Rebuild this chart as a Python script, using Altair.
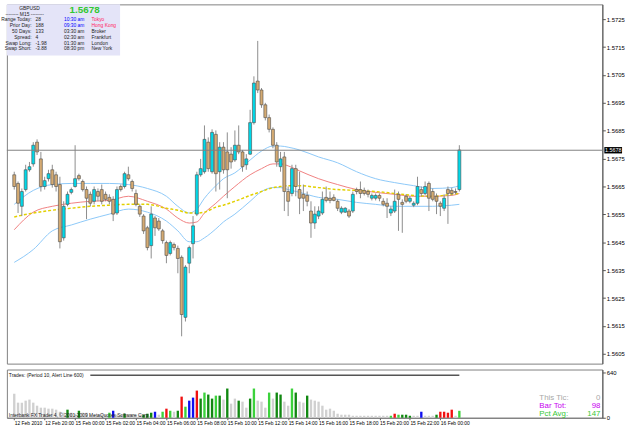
import json
import altair as alt
import pandas as pd

# ---------------- data ----------------
opens = [1.56692, 1.56661, 1.56579, 1.56639, 1.56710, 1.56731, 1.56809, 1.56749, 1.56650, 1.56678,
         1.56710, 1.56692, 1.56657, 1.56466, 1.56586, 1.56629, 1.56650, 1.56689, 1.56668, 1.56639,
         1.56622, 1.56597, 1.56632, 1.56639, 1.56622, 1.56611, 1.56604, 1.56555, 1.56650, 1.56650,
         1.56692, 1.56668, 1.56625, 1.56579, 1.56544, 1.56502, 1.56438, 1.56537, 1.56526, 1.56491,
         1.56449, 1.56410, 1.56442, 1.56428, 1.56396, 1.56181, 1.56375, 1.56445, 1.56551, 1.56692,
         1.56703, 1.56809, 1.56703, 1.56837, 1.56703, 1.56791, 1.56774, 1.56766, 1.56745, 1.56798,
         1.56774, 1.56728, 1.56766, 1.56879, 1.57028, 1.56996, 1.56943, 1.56897, 1.56855, 1.56798,
         1.56721, 1.56756, 1.56632, 1.56625, 1.56714, 1.56639, 1.56622, 1.56618, 1.56562, 1.56519,
         1.56544, 1.56555, 1.56611, 1.56608, 1.56611, 1.56597, 1.56558, 1.56558, 1.56562, 1.56562,
         1.56639, 1.56639, 1.56636, 1.56632, 1.56608, 1.56608, 1.56618, 1.56597, 1.56590, 1.56555,
         1.56562, 1.56622, 1.56593, 1.56615, 1.56597, 1.56583, 1.56590, 1.56639, 1.56625, 1.56661,
         1.56632, 1.56615, 1.56590, 1.56572, 1.56639, 1.56636, 1.56632, 1.56639]
highs = [1.56703, 1.56668, 1.56643, 1.56728, 1.56738, 1.56809, 1.56819, 1.56774, 1.56685, 1.56710,
         1.56728, 1.56703, 1.56685, 1.56597, 1.56632, 1.56646, 1.56798, 1.56696, 1.56675, 1.56650,
         1.56632, 1.56650, 1.56643, 1.56657, 1.56632, 1.56622, 1.56615, 1.56650, 1.56657, 1.56703,
         1.56721, 1.56675, 1.56639, 1.56586, 1.56551, 1.56509, 1.56579, 1.56544, 1.56537, 1.56498,
         1.56456, 1.56456, 1.56449, 1.56438, 1.56403, 1.56368, 1.56438, 1.56544, 1.56703, 1.56749,
         1.56869, 1.56826, 1.56855, 1.56851, 1.56809, 1.56809, 1.56844, 1.56791, 1.56851, 1.56869,
         1.56781, 1.56766, 1.56925, 1.57045, 1.57172, 1.57003, 1.56950, 1.56908, 1.56862, 1.56809,
         1.56774, 1.56774, 1.56650, 1.56728, 1.56728, 1.56703, 1.56657, 1.56632, 1.56597, 1.56579,
         1.56579, 1.56632, 1.56650, 1.56632, 1.56622, 1.56604, 1.56579, 1.56576, 1.56569, 1.56632,
         1.56646, 1.56668, 1.56646, 1.56639, 1.56625, 1.56625, 1.56625, 1.56608, 1.56608, 1.56579,
         1.56639, 1.56632, 1.56604, 1.56622, 1.56615, 1.56597, 1.56685, 1.56650, 1.56668, 1.56668,
         1.56643, 1.56625, 1.56597, 1.56622, 1.56650, 1.56646, 1.56643, 1.56798]
lows = [1.56639, 1.56555, 1.56544, 1.56632, 1.56703, 1.56721, 1.56763, 1.56632, 1.56639, 1.56668,
        1.56646, 1.56632, 1.56428, 1.56456, 1.56579, 1.56622, 1.56646, 1.56671, 1.56632, 1.56533,
        1.56579, 1.56586, 1.56597, 1.56586, 1.56597, 1.56586, 1.56526, 1.56548, 1.56632, 1.56643,
        1.56671, 1.56632, 1.56579, 1.56541, 1.56480, 1.56421, 1.56392, 1.56473, 1.56491, 1.56445,
        1.56375, 1.56403, 1.56421, 1.56339, 1.56113, 1.56166, 1.56339, 1.56392, 1.56544, 1.56685,
        1.56696, 1.56703, 1.56696, 1.56632, 1.56639, 1.56696, 1.56608, 1.56714, 1.56738, 1.56766,
        1.56703, 1.56710, 1.56763, 1.56872, 1.56985, 1.56932, 1.56887, 1.56844, 1.56787, 1.56721,
        1.56703, 1.56562, 1.56544, 1.56615, 1.56615, 1.56551, 1.56562, 1.56579, 1.56466, 1.56498,
        1.56533, 1.56548, 1.56593, 1.56590, 1.56597, 1.56562, 1.56551, 1.56555, 1.56537, 1.56555,
        1.56622, 1.56608, 1.56618, 1.56611, 1.56600, 1.56600, 1.56597, 1.56579, 1.56537, 1.56544,
        1.56555, 1.56491, 1.56484, 1.56590, 1.56590, 1.56576, 1.56583, 1.56615, 1.56618, 1.56562,
        1.56597, 1.56551, 1.56544, 1.56562, 1.56516, 1.56618, 1.56622, 1.56632]
closes = [1.56650, 1.56590, 1.56632, 1.56710, 1.56721, 1.56798, 1.56774, 1.56650, 1.56671, 1.56696,
          1.56657, 1.56650, 1.56452, 1.56579, 1.56622, 1.56639, 1.56678, 1.56678, 1.56639, 1.56608,
          1.56590, 1.56639, 1.56615, 1.56597, 1.56604, 1.56597, 1.56551, 1.56639, 1.56639, 1.56696,
          1.56678, 1.56643, 1.56586, 1.56551, 1.56491, 1.56431, 1.56551, 1.56502, 1.56498, 1.56456,
          1.56403, 1.56449, 1.56431, 1.56392, 1.56191, 1.56361, 1.56431, 1.56509, 1.56692, 1.56714,
          1.56819, 1.56714, 1.56844, 1.56696, 1.56791, 1.56710, 1.56710, 1.56738, 1.56798, 1.56774,
          1.56721, 1.56749, 1.56879, 1.57021, 1.56996, 1.56943, 1.56897, 1.56855, 1.56798, 1.56738,
          1.56749, 1.56632, 1.56597, 1.56714, 1.56650, 1.56608, 1.56608, 1.56597, 1.56519, 1.56551,
          1.56562, 1.56604, 1.56600, 1.56600, 1.56600, 1.56572, 1.56572, 1.56572, 1.56544, 1.56622,
          1.56632, 1.56625, 1.56625, 1.56622, 1.56618, 1.56618, 1.56608, 1.56586, 1.56579, 1.56569,
          1.56597, 1.56604, 1.56586, 1.56597, 1.56608, 1.56590, 1.56650, 1.56625, 1.56650, 1.56608,
          1.56604, 1.56597, 1.56579, 1.56608, 1.56625, 1.56625, 1.56629, 1.56781]

# indicator lines read at selected bars
ma_bars = [0, 5, 10, 15, 20, 25, 30, 35, 40, 43, 46, 48, 50, 53, 55, 58, 62, 65, 68, 70,
           72, 75, 80, 85, 90, 95, 100, 105, 110, 115, 117]
upper_band = [1.56586, 1.56636, 1.56657, 1.56661, 1.56661, 1.56661, 1.56657, 1.56643, 1.56615, 1.56579,
              1.56555, 1.56569, 1.56608, 1.56653, 1.56678, 1.56699, 1.56745, 1.56777, 1.56795, 1.56795,
              1.56791, 1.56781, 1.56756, 1.56735, 1.56703, 1.56678, 1.56664, 1.56653, 1.56643, 1.56646,
              1.56653]
lower_band = [1.56378, 1.56424, 1.56491, 1.56512, 1.56533, 1.56551, 1.56569, 1.56558, 1.56526, 1.56491,
              1.56452, 1.56452, 1.56466, 1.56498, 1.56523, 1.56551, 1.56597, 1.56632, 1.56646, 1.56646,
              1.56639, 1.56629, 1.56611, 1.56604, 1.56593, 1.56586, 1.56579, 1.56579, 1.56579, 1.56583,
              1.56586]
fast_ma = [1.56495, 1.56558, 1.56579, 1.56590, 1.56597, 1.56600, 1.56615, 1.56597, 1.56569, 1.56537,
           1.56519, 1.56523, 1.56555, 1.56590, 1.56615, 1.56650, 1.56692, 1.56714, 1.56731, 1.56731,
           1.56724, 1.56706, 1.56678, 1.56657, 1.56639, 1.56629, 1.56622, 1.56615, 1.56615, 1.56618,
           1.56625]
slow_ma = [1.56541, 1.56555, 1.56565, 1.56572, 1.56579, 1.56583, 1.56586, 1.56586, 1.56572, 1.56565,
           1.56555, 1.56555, 1.56558, 1.56576, 1.56583, 1.56597, 1.56618, 1.56632, 1.56646, 1.56650,
           1.56653, 1.56653, 1.56646, 1.56639, 1.56636, 1.56632, 1.56625, 1.56618, 1.56615, 1.56622,
           1.56625]

volumes = [340, 213, 213, 241, 256, 213, 170, 142, 142, 128,
           128, 114, 85, 71, 114, 71, 57, 99, 71, 71,
           43, 43, 43, 43, 43, 71, 99, 43, 43, 57,
           43, 43, 43, 43, 43, 57, 71, 85, 43, 85,
           128, 99, 85, 99, 298, 156, 241, 284, 383, 270,
           355, 327, 270, 312, 312, 256, 412, 199, 270, 241,
           227, 142, 270, 412, 241, 227, 142, 355, 270, 355,
           327, 227, 170, 412, 355, 227, 213, 312, 256, 241,
           227, 170, 114, 128, 99, 57, 43, 43, 43, 28,
           28, 28, 28, 28, 28, 28, 28, 28, 28, 28,
           57, 43, 43, 43, 28, 28, 28, 85, 28, 28,
           28, 43, 85, 85, 71, 114, 28, 98]
vol_kinds = ["g", "g", "g", "g", "g", "g", "g", "g", "g", "g",
             "g", "g", "g", "g", "d", "g", "g", "d", "g", "g",
             "g", "g", "g", "g", "g", "l", "b", "g", "g", "d",
             "g", "g", "g", "g", "d", "d", "d", "b", "g", "l",
             "r", "l", "g", "d", "r", "l", "b", "b", "r", "d",
             "l", "d", "d", "l", "d", "g", "d", "g", "g", "d",
             "g", "g", "d", "l", "g", "g", "g", "l", "g", "d",
             "d", "g", "g", "l", "d", "g", "g", "d", "g", "g",
             "g", "g", "g", "g", "g", "g", "g", "g", "g", "g",
             "g", "g", "g", "g", "g", "g", "g", "g", "g", "l",
             "r", "l", "d", "d", "d", "g", "g", "b", "g", "g",
             "g", "d", "r", "r", "r", "r", "g", "l"]

tick_bars = [0, 8, 16, 24, 32, 40, 48, 56, 64, 72, 80, 88, 96, 104, 112]
tick_labels = ["12 Feb 2010", "12 Feb 20:00", "15 Feb 00:00", "15 Feb 02:00", "15 Feb 04:00",
               "15 Feb 06:00", "15 Feb 08:00", "15 Feb 10:00", "15 Feb 12:00", "15 Feb 14:00",
               "15 Feb 16:00", "15 Feb 18:00", "15 Feb 20:00", "15 Feb 22:00", "16 Feb 00:00"]
price_ticks = [1.5605, 1.5615, 1.5625, 1.5635, 1.5645, 1.5655, 1.5665, 1.5675,
               1.5685, 1.5695, 1.5705, 1.5715, 1.5725]
current_price = [1.5678]

info_labels = ["Range Today:", "Prior Day:", "50 Days:", "Spread:", "Swap Long:", "Swap Short:"]
info_values = ["28", "188", "133", "4", "-1.98", "-3.88"]
info_times = ["10:30 am", "09:30 am", "03:30 am", "02:30 am", "01:30 am", "08:30 pm"]
info_cities = ["Tokyo", "Hong Kong", "Broker", "Frankfurt", "London", "New York"]
stat_names = ["This Tic:", "Bar Tot:", "Pct Avg:"]
stat_values = [0, volumes[-1], 147]

# ---------------- chart ----------------
FONT = "Liberation Sans"
W, H_TOP, H_VOL = 605, 365, 49
n = len(opens)
candles = pd.DataFrame({"bar": list(range(n)), "open": opens, "high": highs,
                        "low": lows, "close": closes})
candles["dir"] = ["up" if c > o else "down" for o, c in zip(opens, closes)]

xscale = alt.Scale(domain=[-0.64, 153.3], nice=False, zero=False)
yscale = alt.Scale(domain=[1.56015, 1.57303], nice=False, zero=False)
price_axis = alt.Axis(orient="right", values=price_ticks, format=".4f", title=None,
                      labelFontSize=6, labelFont=FONT, labelColor="#000", tickSize=3,
                      tickColor="#555", domainColor="#555", labelPadding=1, grid=False)

wicks = alt.Chart(candles).mark_rule(color="#8c8c8c", strokeWidth=1).encode(
    x=alt.X("bar:Q", scale=xscale, axis=None),
    y=alt.Y("low:Q", scale=yscale, axis=price_axis),
    y2="high:Q")
bodies = alt.Chart(candles).mark_bar(size=3, stroke="#4a4a4a", strokeWidth=0.6).encode(
    x=alt.X("bar:Q", scale=xscale, axis=None),
    y=alt.Y("open:Q", scale=yscale, axis=price_axis),
    y2="close:Q",
    fill=alt.Fill("dir:N", scale=alt.Scale(domain=["up", "down"], range=["#00D8E8", "#D4AA72"]),
                  legend=None))

lines_df = pd.DataFrame({"bar": ma_bars, "upper": upper_band, "lower": lower_band,
                         "fast": fast_ma, "slow": slow_ma})


def ma_line(col, color, dash=None, width=1.0):
    kw = dict(color=color, strokeWidth=width, interpolate="monotone")
    if dash:
        kw["strokeDash"] = dash
    return alt.Chart(lines_df).mark_line(**kw).encode(
        x=alt.X("bar:Q", scale=xscale, axis=None),
        y=alt.Y(f"{col}:Q", scale=yscale, axis=price_axis))


price_df = pd.DataFrame({"p": current_price, "txt": [f"{current_price[0]:.4f}"]})
price_rule = alt.Chart(price_df).mark_rule(color="#808080", strokeWidth=1).encode(
    y=alt.Y("p:Q", scale=yscale, axis=price_axis))
price_box = alt.Chart(price_df).mark_point(
    shape="M-1,-0.36L1,-0.36L1,0.36L-1,0.36Z", size=324, filled=True, color="#000", opacity=1
).encode(x=alt.value(616), y=alt.Y("p:Q", scale=yscale, axis=price_axis))
price_txt = alt.Chart(price_df).mark_text(color="#fff", fontSize=5.5, font=FONT).encode(
    x=alt.value(616), y=alt.Y("p:Q", scale=yscale, axis=price_axis), text="txt:N")

# info box
box = alt.Chart(alt.Data(values=[{}])).mark_rect(color="#E4E4F8").encode(
    x=alt.value(0), x2=alt.value(115), y=alt.value(0), y2=alt.value(52))
rows_y = [15, 21, 27, 33, 39, 44.5]
info_rows = []
for k in range(6):
    info_rows.append({"t": info_labels[k], "px": 25, "py": rows_y[k], "a": "right", "c": "#222"})
    info_rows.append({"t": info_values[k], "px": 29, "py": rows_y[k], "a": "left", "c": "#222"})
    info_rows.append({"t": info_times[k], "px": 58, "py": rows_y[k], "a": "left",
                      "c": "#0000FF" if k < 2 else "#222"})
    info_rows.append({"t": info_cities[k], "px": 86, "py": rows_y[k], "a": "left",
                      "c": "#FF2060" if k < 2 else "#222"})
info_rows.append({"t": "GBPUSD", "px": 23, "py": 4, "a": "center", "c": "#222"})
info_rows.append({"t": "-------- M15 --------", "px": 18, "py": 10, "a": "center", "c": "#222"})
info_df = pd.DataFrame(info_rows)


def txt_layer(df, size, align):
    sub = df[df["a"] == align]
    return alt.Chart(sub).mark_text(fontSize=size, font=FONT, align=align, baseline="middle").encode(
        x=alt.X("px:Q", scale=None), y=alt.Y("py:Q", scale=None), text="t:N",
        color=alt.Color("c:N", scale=None))


big_price = alt.Chart(price_df).mark_text(fontSize=10, font=FONT, fontWeight="bold",
                                          color="#32C832", align="center", baseline="middle").encode(
    x=alt.value(79), y=alt.value(6), text="txt:N")

top = alt.layer(
    ma_line("upper", "#8CC8F8"), ma_line("lower", "#8CC8F8"),
    ma_line("fast", "#F08080"), ma_line("slow", "#E2D000", dash=[3, 2], width=1.5),
    wicks, bodies, price_rule, price_box, price_txt,
    box, txt_layer(info_df, 5, "right"), txt_layer(info_df, 5, "left"),
    txt_layer(info_df, 5, "center"), big_price,
).properties(width=W, height=H_TOP)

# ---------------- volume pane ----------------
vol_df = pd.DataFrame({"bar": list(range(n)), "vol": volumes, "kind": vol_kinds})
vscale = alt.Scale(domain=[0, 680], nice=False, zero=True)
vol_axis = alt.Axis(orient="right", values=[0, 640], title=None, labelFontSize=6, labelFont=FONT,
                    labelColor="#000", tickSize=3, tickColor="#555", domainColor="#555",
                    labelPadding=1, grid=False)
label_expr = json.dumps(tick_labels) + "[round(datum.value/8)]"
time_axis = alt.Axis(values=tick_bars, labelExpr=label_expr, title=None, orient="bottom",
                     labelAlign="left", labelFontSize=5, labelFont=FONT, labelColor="#000",
                     tickSize=2, tickColor="#555", domainColor="#777", labelPadding=1,
                     labelOverlap=False, labelFlush=False, grid=False)
vbars = alt.Chart(vol_df).mark_bar(size=2.4).encode(
    x=alt.X("bar:Q", scale=xscale, axis=time_axis),
    y=alt.Y("vol:Q", scale=vscale, axis=vol_axis),
    color=alt.Color("kind:N", legend=None,
                    scale=alt.Scale(domain=["g", "d", "l", "b", "r"],
                                    range=["#D0D0D0", "#118811", "#3CD23C", "#1010F0", "#F01010"])))
alert_df = pd.DataFrame({"b1": [20], "b2": [n - 1], "lvl": [600]})
alert = alt.Chart(alert_df).mark_rule(color="#555", strokeWidth=1.5).encode(
    x=alt.X("b1:Q", scale=xscale, axis=time_axis), x2="b2:Q",
    y=alt.Y("lvl:Q", scale=vscale, axis=vol_axis))

vt_rows = [
    {"t": "Trades: (Period 10, Alert Line 600)", "px": 2, "py": 6, "a": "left", "c": "#111"},
    {"t": "Interbank FX Trader 4, \u00a9 2001-2009 MetaQuotes Software Corp.", "px": 2, "py": 46,
     "a": "left", "c": "#222"},
]
vt_df = pd.DataFrame(vt_rows)
stat_rows = []
stat_colors = ["#A8A8A8", "#C800F0", "#38C838"]
stat_y = [28.5, 37, 45.5]
for k in range(3):
    stat_rows.append({"t": stat_names[k], "px": 541, "py": stat_y[k], "a": "left", "c": stat_colors[k]})
    stat_rows.append({"t": str(stat_values[k]), "px": 603, "py": stat_y[k], "a": "right", "c": stat_colors[k]})
stat_df = pd.DataFrame(stat_rows)

bottom = alt.layer(
    vbars, alert,
    txt_layer(vt_df, 5, "left"),
    txt_layer(stat_df, 8, "left"), txt_layer(stat_df, 8, "right"),
).properties(width=W, height=H_VOL)

chart = alt.vconcat(top, bottom, spacing=4).properties(padding=0).configure_view(
    stroke="#808080", strokeWidth=1)

chart.save("out.html", embed_options={"renderer": "svg", "actions": False})
